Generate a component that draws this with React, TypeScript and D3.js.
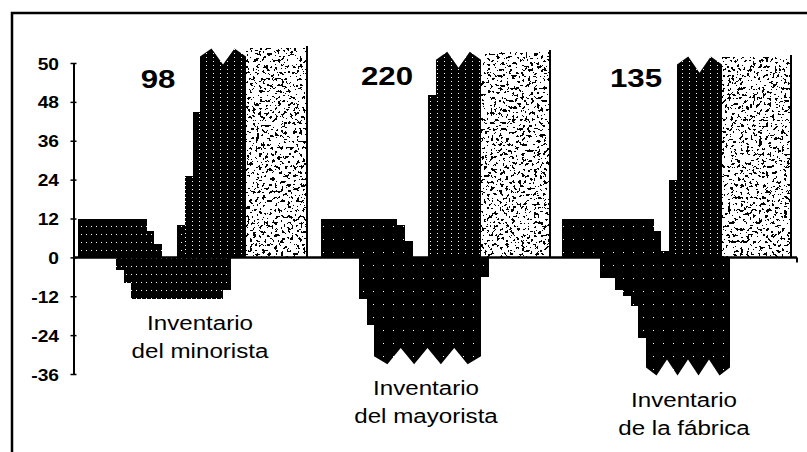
import { useEffect, useRef } from "react";
import * as d3 from "d3";

// weeks shown in each of the three panels
const weeks = d3.range(30);

const panelNames = [
  ["Inventario", "del minorista"],
  ["Inventario", "del mayorista"],
  ["Inventario", "de la fábrica"],
];
const peakTotals = [98, 220, 135];

// inventory (stock) per week, off-scale weeks carry the peak
const retailerStock = [12, 12, 12, 12, 12, 12, 12, 12, 12, 8, 4, 0, 0, 10, 25, 45, 98, 98, 98, 98, 98, 98, 98, 98, 98, 98, 98, 98, 98, 98];
const wholesalerStock = [12, 12, 12, 12, 12, 12, 12, 12, 12, 12, 10, 5, 0, 0, 50, 220, 220, 220, 220, 220, 220, 220, 220, 220, 220, 220, 220, 220, 220, 220];
const factoryStock = [12, 12, 12, 12, 12, 12, 12, 12, 12, 12, 12, 12, 8, 2, 24, 135, 135, 135, 135, 135, 135, 135, 135, 135, 135, 135, 135, 135, 135, 135];

// backlog per week (negative inventory)
const retailerBacklog = [0, 0, 0, 0, 0, -4, -8, -13, -13, -13, -13, -13, -13, -13, -13, -13, -13, -13, -13, -10, 0, 0, 0, 0, 0, 0, 0, 0, 0, 0];
const wholesalerBacklog = [0, 0, 0, 0, 0, -13, -21, -40, -40, -40, -40, -40, -40, -40, -40, -40, -40, -40, -40, -40, -40, -6, 0, 0, 0, 0, 0, 0, 0, 0];
const factoryBacklog = [0, 0, 0, 0, 0, -6.5, -6.5, -10, -12, -15, -25, -40, -40, -40, -40, -40, -40, -40, -40, -40, -40, -40, 0, 0, 0, 0, 0, 0, 0, 0];

// first week of the shaded (far off-scale) stretch
const shadedFrom = [22, 21, 21];

const tickValues = [60, 48, 36, 24, 12, 0, -12, -24, -36];
const tickLabels = ["50", "48", "36", "24", "12", "0", "-12", "-24", "-36"];

const stocks = [retailerStock, wholesalerStock, factoryStock];
const backlogs = [retailerBacklog, wholesalerBacklog, factoryBacklog];

// layout
const W = 807;
const H = 452;
const panelX = [78, 321, 562];
const panelW = 229;
const topCut = [59.5, 58.5, 57];
const bottomCut = [-28, -28, -31.5];
const tooth = 5;
const bigNumPos = [[158, 88], [387, 85], [636, 87]];
const namePos = [[200, 330], [426, 395], [684, 407]];
const FONT = "'Liberation Sans', Arial, Helvetica, sans-serif";

const App = () => {
  const ref = useRef<SVGSVGElement>(null);

  useEffect(() => {
    const svg = d3.select(ref.current);
    svg.selectAll("*").remove();

    const y = d3.scaleLinear().domain([-36, 60]).range([374, 63]);
    const y0 = y(0);

    const defs = svg.append("defs");
    const addDots = (id: string, w: number, h: number, dx: number, dy: number) => {
      const p = defs.append("pattern").attr("id", id)
        .attr("patternUnits", "userSpaceOnUse").attr("width", w).attr("height", h);
      p.append("rect").attr("width", w).attr("height", h).attr("fill", "#000");
      p.append("rect").attr("x", dx).attr("y", dy).attr("width", 1).attr("height", 1).attr("fill", "#fff");
    };
    addDots("dense", 5, 8, 1, 2);
    addDots("tall", 7, 4, 3, 1);
    addDots("sparse", 10, 13, 3, 5);

    // speckled texture for the far off-scale weeks
    const f = defs.append("filter").attr("id", "speckle")
      .attr("x", 0).attr("y", 0).attr("width", 1).attr("height", 1);
    f.append("feTurbulence").attr("type", "fractalNoise").attr("baseFrequency", 0.32)
      .attr("numOctaves", 3).attr("seed", 11).attr("result", "n");
    f.append("feColorMatrix").attr("in", "n").attr("type", "matrix")
      .attr("values", "0 0 0 0 0  0 0 0 0 0  0 0 0 0 0  -5 0 0 0 2.45").attr("result", "a");
    f.append("feComponentTransfer").attr("in", "a").attr("result", "t")
      .append("feFuncA").attr("type", "discrete").attr("tableValues", "0 1");
    f.append("feComposite").attr("in", "t").attr("in2", "SourceAlpha").attr("operator", "in");

    const line = d3.line();

    const zigzag = (x0: number, x1: number, clipY: number, tipY: number) => {
      const n = Math.max(1, Math.ceil((x1 - x0) / 27));
      const tw = (x1 - x0) / n;
      const mid = (clipY + tipY) / 2;
      const pts: [number, number][] = [[x0, y0], [x0, mid]];
      for (let k = 0; k < n; k++) {
        pts.push([x0 + (k + 0.5) * tw, tipY]);
        if (k < n - 1) pts.push([x0 + (k + 1) * tw, clipY]);
      }
      pts.push([x1, mid], [x1, y0]);
      return line(pts) + "Z";
    };

    const runs = (test: (i: number) => boolean) => {
      const out: [number, number][] = [];
      let start = -1;
      weeks.forEach((i) => {
        if (test(i)) { if (start < 0) start = i; }
        else if (start >= 0) { out.push([start, i - 1]); start = -1; }
      });
      if (start >= 0) out.push([start, weeks.length - 1]);
      return out;
    };

    stocks.forEach((stock, p) => {
      const x = d3.scaleBand<number>().domain(weeks).range([panelX[p], panelX[p] + panelW]);
      const bw = x.bandwidth();
      const xl = (i: number) => Math.round(x(i)!);
      const xr = (i: number) => Math.round(x(i)! + bw);
      const low = p === 0 ? "url(#dense)" : "url(#sparse)";
      const g = svg.append("g").attr("shape-rendering", "crispEdges");

      // shaded off-scale stretch
      runs((i) => i >= shadedFrom[p]).forEach(([a, b]) => {
        g.append("rect").attr("x", xl(a)).attr("width", xr(b) - xl(a))
          .attr("y", y(topCut[p] + tooth)).attr("height", y0 - y(topCut[p] + tooth))
          .attr("fill", "#000").attr("filter", "url(#speckle)");
        g.append("line").attr("x1", xr(b)).attr("x2", xr(b))
          .attr("y1", y(topCut[p] + tooth) - 2).attr("y2", y0)
          .attr("stroke", "#000").attr("stroke-width", 2.2);
      });

      // stock bars on scale
      g.selectAll(".pos")
        .data(weeks.filter((i) => i < shadedFrom[p] && stock[i] > 0 && stock[i] <= topCut[p]))
        .join("rect")
        .attr("x", (i) => xl(i)).attr("width", (i) => xr(i) - xl(i))
        .attr("y", (i) => y(stock[i])).attr("height", (i) => y0 - y(stock[i]))
        .attr("fill", (i) => (stock[i] > 12 ? "url(#tall)" : low));

      // stock bars cut at the top
      runs((i) => i < shadedFrom[p] && stock[i] > topCut[p]).forEach(([a, b]) => {
        g.append("path").attr("d", zigzag(xl(a), xr(b), y(topCut[p]), y(topCut[p] + tooth)))
          .attr("fill", "url(#tall)").attr("shape-rendering", "auto");
      });

      // backlog bars
      const back = backlogs[p];
      g.selectAll(".neg")
        .data(weeks.filter((i) => back[i] < 0 && back[i] >= bottomCut[p]))
        .join("rect")
        .attr("x", (i) => xl(i)).attr("width", (i) => xr(i) - xl(i))
        .attr("y", y0).attr("height", (i) => y(back[i]) - y0)
        .attr("fill", low);

      // backlog bars cut at the bottom
      runs((i) => back[i] < bottomCut[p]).forEach(([a, b]) => {
        g.append("path").attr("d", zigzag(xl(a), xr(b), y(bottomCut[p]), y(bottomCut[p] - tooth)))
          .attr("fill", low).attr("shape-rendering", "auto");
      });

      // peak number
      svg.append("text")
        .attr("transform", `translate(${bigNumPos[p][0]},${bigNumPos[p][1]}) scale(1.2,1)`)
        .attr("text-anchor", "middle").attr("font-family", FONT)
        .attr("font-size", 26).attr("font-weight", "bold")
        .text(peakTotals[p]);

      // panel name
      panelNames[p].forEach((t, k) => {
        svg.append("text")
          .attr("transform", `translate(${namePos[p][0]},${namePos[p][1] + k * 28}) scale(1.15,1)`)
          .attr("text-anchor", "middle").attr("font-family", FONT)
          .attr("font-size", 21)
          .text(t);
      });
    });

    // zero line
    svg.append("line").attr("x1", 73).attr("x2", 797).attr("y1", y0).attr("y2", y0)
      .attr("stroke", "#000").attr("stroke-width", 2.5);
    svg.append("line").attr("x1", 797).attr("x2", 797).attr("y1", y0).attr("y2", y0 + 5)
      .attr("stroke", "#000").attr("stroke-width", 2);

    // y axis
    const axis = d3.axisLeft(y)
      .tickValues(tickValues)
      .tickSizeInner(3)
      .tickSizeOuter(0)
      .tickFormat((_, i) => tickLabels[i]);
    const gAxis = svg.append("g").attr("transform", "translate(73.5,0)").call(axis);
    gAxis.attr("font-family", FONT).attr("font-size", 16);
    gAxis.select(".domain").attr("stroke-width", 2);
    gAxis.selectAll(".tick line").attr("x1", 3).attr("stroke-width", 1.5);
    gAxis.selectAll(".tick text")
      .attr("x", null)
      .attr("font-weight", "bold")
      .attr("transform", "translate(-14.5,1) scale(1.2,1)");

    // frame
    svg.append("rect").attr("x", 12).attr("y", 13).attr("width", 900).attr("height", 600)
      .attr("fill", "none").attr("stroke", "#000").attr("stroke-width", 2.5);
  }, []);

  return (
    <svg
      ref={ref}
      width={W}
      height={H}
      style={{ position: "absolute", left: 0, top: 0, background: "#fff", display: "block" }}
    />
  );
};

export default App;
